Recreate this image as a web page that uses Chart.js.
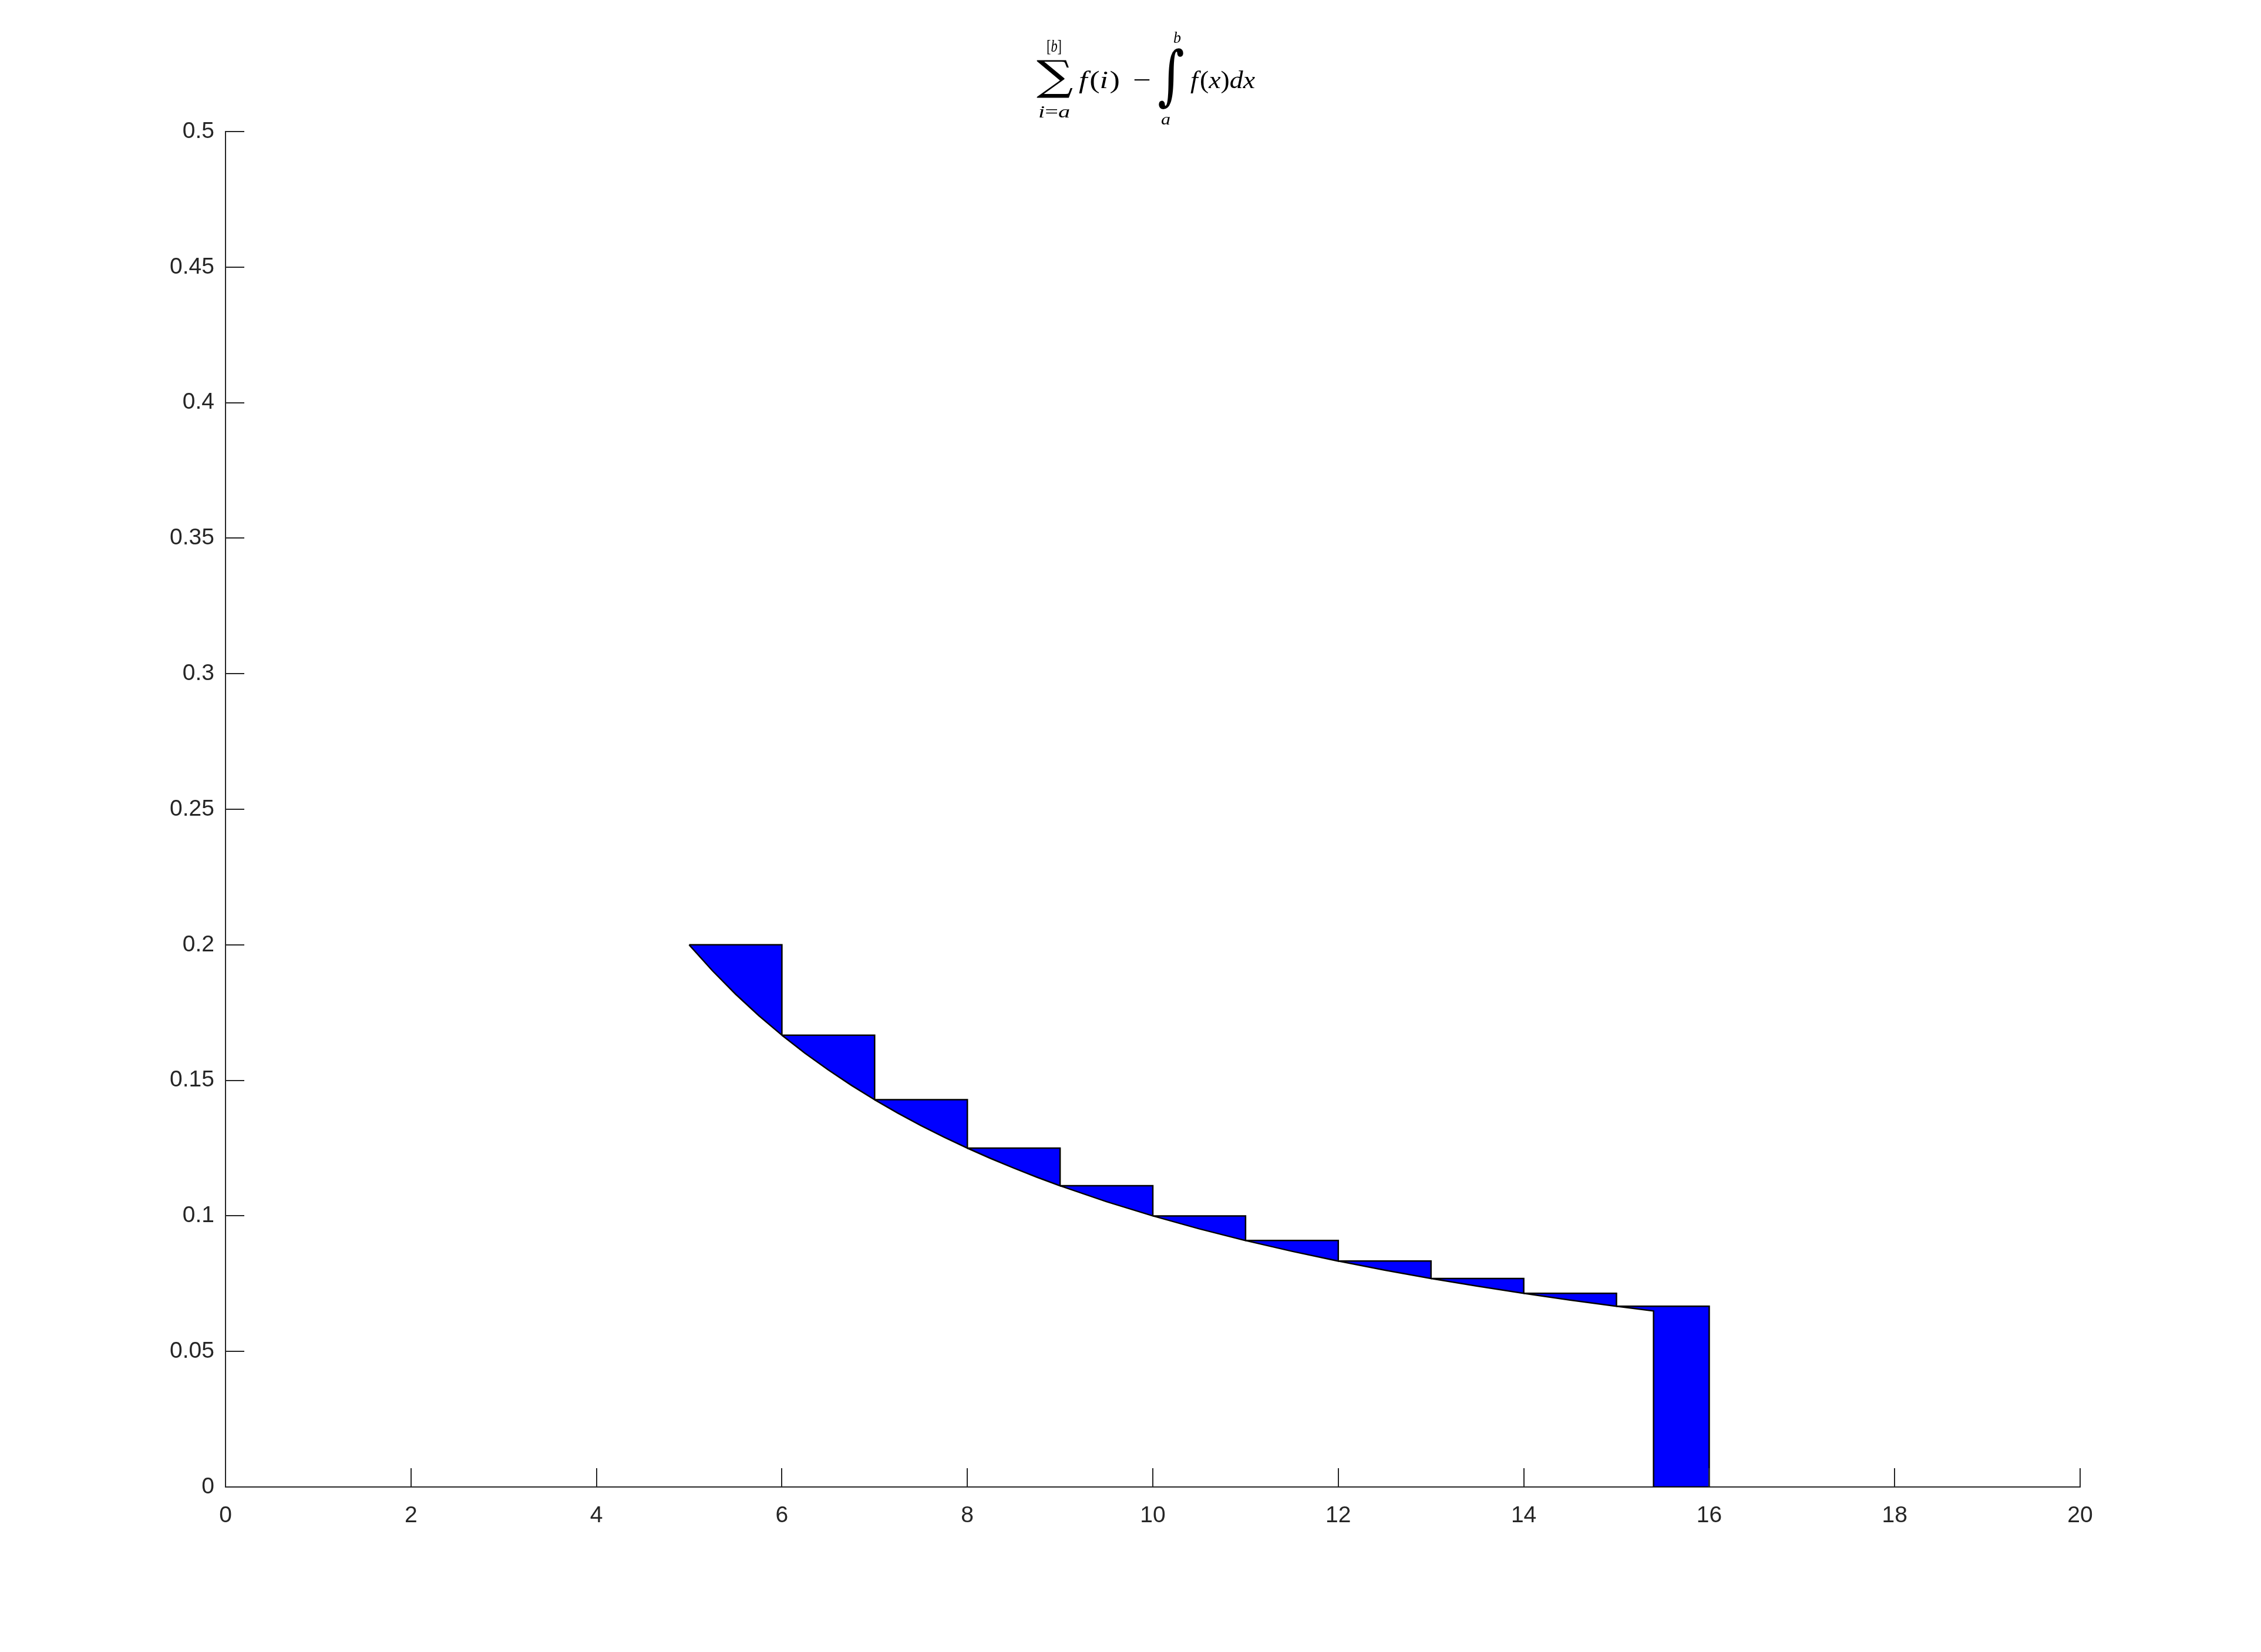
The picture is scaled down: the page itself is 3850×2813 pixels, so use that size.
<!DOCTYPE html>
<html><head><meta charset="utf-8">
<script src="https://cdn.jsdelivr.net/npm/chart.js@4.4.1/dist/chart.umd.min.js"></script>
<style>html,body{margin:0;padding:0;background:#fff;} #wrap{width:3850px;height:2813px;position:relative;}</style>
</head><body><div id="wrap"><canvas id="c"></canvas></div>
<script>
// ---- data ----
const xTickValues = [0, 2, 4, 6, 8, 10, 12, 14, 16, 18, 20];
const xTickLabels = ['0', '2', '4', '6', '8', '10', '12', '14', '16', '18', '20'];
const yTickValues = [0, 0.05, 0.1, 0.15, 0.2, 0.25, 0.3, 0.35, 0.4, 0.45, 0.5];
const yTickLabels = ['0', '0.05', '0.1', '0.15', '0.2', '0.25', '0.3', '0.35', '0.4', '0.45', '0.5'];
const stepStarts  = [5, 6, 7, 8, 9, 10, 11, 12, 13, 14, 15];
const stepEnds    = [6, 7, 8, 9, 10, 11, 12, 13, 14, 15, 16];
const stepHeights = [0.2, 0.166667, 0.142857, 0.125, 0.111111, 0.1, 0.090909, 0.083333, 0.076923, 0.071429, 0.066667];
const upperLimit = 15.4;
const curveX = [5, 5.25, 5.5, 5.75, 6, 6.25, 6.5, 6.75, 7, 7.25, 7.5, 7.75, 8, 8.25, 8.5, 8.75, 9, 9.5, 10, 10.5, 11, 11.5, 12, 12.5, 13, 13.5, 14, 14.5, 15, 15.4];
const curveY = [0.2, 0.190476, 0.181818, 0.173913, 0.166667, 0.16, 0.153846, 0.148148, 0.142857, 0.137931, 0.133333, 0.129032, 0.125, 0.121212, 0.117647, 0.114286, 0.111111, 0.105263, 0.1, 0.095238, 0.090909, 0.086957, 0.083333, 0.08, 0.076923, 0.074074, 0.071429, 0.068966, 0.066667, 0.064935];

// ---- build closed polygons from the arrays ----
function polygonFor(k) {
  const s = stepStarts[k], e = stepEnds[k], h = stepHeights[k];
  const pts = [{x: s, y: h}, {x: e, y: h}];
  let right = e;
  if (e > upperLimit) {
    pts.push({x: e, y: 0});
    pts.push({x: upperLimit, y: 0});
    right = upperLimit;
  }
  for (let j = curveX.length - 1; j >= 0; j--) {
    if (curveX[j] >= s - 1e-9 && curveX[j] <= right + 1e-9) pts.push({x: curveX[j], y: curveY[j]});
  }
  pts.push({x: s, y: h});
  return pts;
}
const datasets = stepStarts.map((_, k) => ({
  data: polygonFor(k),
  fill: 'shape',
  backgroundColor: '#0000ff',
  borderColor: '#000000',
  borderWidth: 2.5,
  pointRadius: 0,
  pointHoverRadius: 0,
  tension: 0,
  borderJoinStyle: 'miter'
}));

const AXIS = '#262626';
const TICKFONT = {family: '"Liberation Sans", Arial, sans-serif', size: 39};

const inwardTicks = {
  id: 'inwardTicks',
  afterDraw(chart) {
    const ctx = chart.ctx, xs = chart.scales.x, ys = chart.scales.y;
    const L = 32;
    ctx.save();
    ctx.strokeStyle = AXIS; ctx.lineWidth = 2;
    ctx.beginPath();
    xTickValues.forEach(v => { const px = Math.round(xs.getPixelForValue(v)); ctx.moveTo(px, ys.bottom); ctx.lineTo(px, ys.bottom - L); });
    yTickValues.forEach(v => { const py = Math.round(ys.getPixelForValue(v)); ctx.moveTo(xs.left, py); ctx.lineTo(xs.left + L, py); });
    ctx.stroke();
    ctx.restore();
  }
};

const SERIF = '"Liberation Serif", "DejaVu Serif", serif';
function fontOf(r, size) { return (r.i ? 'italic ' : '') + size + 'px ' + SERIF; }
function runsWidth(ctx, size, runs) {
  let w = 0;
  runs.forEach(r => { ctx.font = fontOf(r, size); w += ctx.measureText(r.t).width + (r.gap || 0); });
  return w;
}
// draw runs stretched horizontally to span [left, right]
function drawRunsFit(ctx, runs, size, left, right, baseline) {
  const w = runsWidth(ctx, size, runs);
  ctx.save();
  ctx.translate(left, baseline);
  ctx.scale((right - left) / w, 1);
  let cx = 0;
  ctx.textAlign = 'left'; ctx.textBaseline = 'alphabetic';
  runs.forEach(r => {
    ctx.font = fontOf(r, size);
    ctx.fillText(r.t, cx, 0);
    cx += ctx.measureText(r.t).width + (r.gap || 0);
  });
  ctx.restore();
}
// draw a glyph so its ink box fills [l,r]x[t,b]
function fitGlyphBox(ctx, ch, font, l, r, t, b) {
  ctx.font = font;
  ctx.textAlign = 'left'; ctx.textBaseline = 'alphabetic';
  const m = ctx.measureText(ch);
  const w = m.actualBoundingBoxLeft + m.actualBoundingBoxRight;
  const h = m.actualBoundingBoxAscent + m.actualBoundingBoxDescent;
  ctx.save();
  ctx.translate(l, t);
  ctx.scale((r - l) / w, (b - t) / h);
  ctx.fillText(ch, m.actualBoundingBoxLeft, m.actualBoundingBoxAscent);
  ctx.restore();
}

const mathTitle = {
  id: 'mathTitle',
  afterDraw(chart) {
    const ctx = chart.ctx;
    ctx.save();
    ctx.fillStyle = '#000';
    const base = 150;
    // Sigma with limits
    fitGlyphBox(ctx, '\u2211', '100px "DejaVu Serif", serif', 1765, 1827, 102, 167);
    drawRunsFit(ctx, [{t: '['}, {t: 'b', i: true}, {t: ']'}], 30, 1782, 1808, 88);
    drawRunsFit(ctx, [{t: 'i', i: true}, {t: '='}, {t: 'a', i: true}], 30, 1768, 1822, 200);
    // f(i) -
    drawRunsFit(ctx, [{t: 'f', i: true, gap: 3}, {t: '('}, {t: 'i', i: true, gap: 2}, {t: ')'}], 42, 1837, 1907, base);
    drawRunsFit(ctx, [{t: '\u2212'}], 42, 1929, 1960, base);
    // integral with limits
    fitGlyphBox(ctx, '\u222B', '100px "DejaVu Serif", serif', 1973, 2015, 82, 187);
    drawRunsFit(ctx, [{t: 'b', i: true}], 28, 1998, 2011, 73);
    drawRunsFit(ctx, [{t: 'a', i: true}], 28, 1977, 1993, 212);
    drawRunsFit(ctx, [{t: 'f', i: true, gap: 3}, {t: '('}, {t: 'x', i: true}, {t: ')'}, {t: 'd', i: true}, {t: 'x', i: true}], 42, 2027, 2137, base);
    ctx.restore();
  }
};

new Chart(document.getElementById('c'), {
  type: 'line',
  data: {datasets},
  options: {
    responsive: true,
    maintainAspectRatio: false,
    animation: false,
    events: [],
    layout: {padding: {left: 0, right: 308, top: 224, bottom: 0}},
    plugins: {legend: {display: false}, tooltip: {enabled: false}, title: {display: false}},
    scales: {
      x: {
        type: 'linear', min: 0, max: 20,
        afterBuildTicks: s => { s.ticks = xTickValues.map(v => ({value: v})); },
        afterFit: s => { s.height = 281; },
        ticks: {callback: (v) => xTickLabels[xTickValues.indexOf(v)], color: AXIS, font: TICKFONT, padding: 26, maxRotation: 0, autoSkip: false},
        grid: {display: true, drawOnChartArea: false, drawTicks: false},
        border: {display: true, color: AXIS, width: 2}
      },
      y: {
        type: 'linear', min: 0, max: 0.5,
        afterBuildTicks: s => { s.ticks = yTickValues.map(v => ({value: v})); },
        afterFit: s => { s.width = 384; },
        ticks: {callback: (v) => yTickLabels[yTickValues.indexOf(v)], color: AXIS, font: TICKFONT, padding: 19, autoSkip: false},
        grid: {display: true, drawOnChartArea: false, drawTicks: false},
        border: {display: true, color: AXIS, width: 2}
      }
    }
  },
  plugins: [inwardTicks, mathTitle]
});
</script>
</body></html>
